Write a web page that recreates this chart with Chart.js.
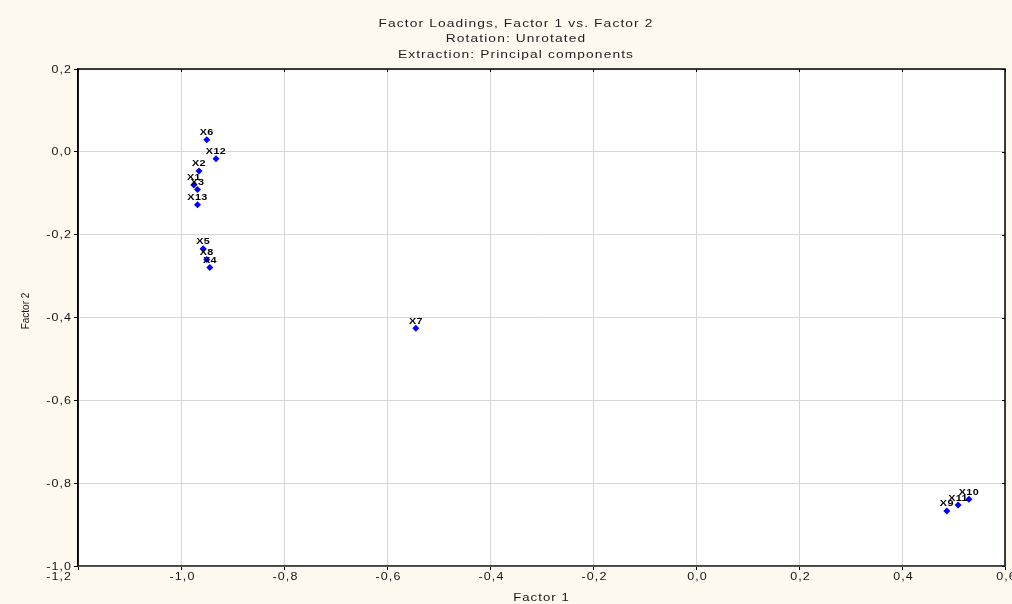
<!DOCTYPE html>
<html>
<head>
<meta charset="utf-8">
<script src="https://cdn.jsdelivr.net/npm/chart.js@4"></script>
<style>
  html, body { margin: 0; padding: 0; background: #fdf9ef; }
  #wrap { width: 1012px; height: 604px; }
</style>
</head>
<body>
<div id="wrap"><canvas id="c" width="1012" height="604"></canvas></div>
<script>
// Unrotated factor loadings (principal components)
const variables = ['X1', 'X2', 'X3', 'X4', 'X5', 'X6', 'X7', 'X8', 'X9', 'X10', 'X11', 'X12', 'X13'];
const factor1 = [-0.975, -0.965, -0.968, -0.944, -0.957, -0.950, -0.544, -0.950, 0.487, 0.530, 0.509, -0.932, -0.968];
const factor2 = [-0.080, -0.046, -0.091, -0.279, -0.234, 0.029, -0.426, -0.260, -0.867, -0.839, -0.853, -0.017, -0.128];

const xTicks = [-1.2, -1.0, -0.8, -0.6, -0.4, -0.2, 0, 0.2, 0.4, 0.6];
const yTicks = [-1.0, -0.8, -0.6, -0.4, -0.2, 0, 0.2];

const titleLines = ['Factor Loadings, Factor 1 vs. Factor 2', 'Rotation: Unrotated', 'Extraction: Principal components'];
const xTitle = 'Factor 1';
const yTitle = 'Factor 2';

const points = variables.map((v, i) => ({ x: factor1[i], y: factor2[i], label: v }));
const fmt = v => Number(v).toFixed(1).replace('.', ',');
const FONT = 'Arial, "Liberation Sans", sans-serif';
const INK = '#151515';

// Wide, loosely spaced lettering
function wideText(ctx, text, x, y, opt) {
  ctx.save();
  ctx.translate(x, y);
  ctx.scale(opt.sx || 1.25, 1);
  ctx.font = (opt.weight || 'normal') + ' ' + opt.size + 'px ' + FONT;
  ctx.letterSpacing = (opt.ls == null ? 0.85 : opt.ls) + 'px';
  ctx.fillStyle = opt.color || INK;
  ctx.textAlign = opt.align || 'center';
  ctx.textBaseline = opt.baseline || 'alphabetic';
  ctx.fillText(text, 0, 0);
  ctx.restore();
}

const frame = {
  id: 'frame',
  beforeDraw(chart) {
    const { ctx, chartArea: a } = chart;
    ctx.save();
    ctx.fillStyle = '#fdf9ef';
    ctx.fillRect(0, 0, chart.width, chart.height);
    ctx.fillStyle = '#ffffff';
    ctx.fillRect(a.left, a.top, a.right - a.left, a.bottom - a.top);
    ctx.restore();
  },
  afterDatasetsDraw(chart) {
    const { ctx } = chart;
    const meta = chart.getDatasetMeta(0);
    meta.data.forEach((el, i) => {
      wideText(ctx, points[i].label, el.x, el.y - 4.5, { size: 9, weight: 'bold', sx: 1.2, ls: 0.3, color: '#000' });
    });
  },
  afterDraw(chart) {
    const { ctx, chartArea: a, scales } = chart;
    const xs = scales.x, ys = scales.y;
    ctx.save();
    // frame
    ctx.strokeStyle = '#000';
    ctx.lineWidth = 1.5;
    ctx.beginPath();
    ctx.moveTo(a.left, a.bottom); ctx.lineTo(a.left, a.top); ctx.lineTo(a.right, a.top); ctx.lineTo(a.right, a.bottom);
    ctx.stroke();
    ctx.strokeStyle = '#444';
    ctx.beginPath();
    ctx.moveTo(a.left, a.bottom); ctx.lineTo(a.right, a.bottom);
    ctx.stroke();
    // inner ticks on the top and right edges
    ctx.lineWidth = 1;
    ctx.strokeStyle = '#000';
    ctx.beginPath();
    xTicks.forEach(v => { const px = Math.round(xs.getPixelForValue(v)) + 0.5; ctx.moveTo(px, a.top); ctx.lineTo(px, a.top + 3); });
    yTicks.forEach(v => { const py = Math.round(ys.getPixelForValue(v)) + 0.5; ctx.moveTo(a.right, py); ctx.lineTo(a.right - 3, py); });
    ctx.stroke();
    ctx.restore();

    // tick labels
    xTicks.forEach((v, i) => {
      const px = xs.getPixelForValue(v);
      if (i === 0) wideText(ctx, fmt(v), px - 6, 580, { size: 10, align: 'right' });
      else wideText(ctx, fmt(v), px + 1.5, 580, { size: 10 });
    });
    yTicks.forEach(v => {
      const py = ys.getPixelForValue(v);
      wideText(ctx, fmt(v), a.left - 6, py + 3.6, { size: 10, align: 'right' });
    });

    // titles
    const cx = 516;
    const base = [26.5, 42.3, 58.3];
    titleLines.forEach((t, i) => wideText(ctx, t, cx, base[i], { size: 11, ls: 0.9, color: '#1e1e1e' }));
    wideText(ctx, xTitle, (a.left + a.right) / 2, 600.5, { size: 10.5 });

    ctx.save();
    ctx.translate(29, 311);
    ctx.rotate(-Math.PI / 2);
    ctx.font = '10px ' + FONT;
    ctx.fillStyle = INK;
    ctx.textAlign = 'center';
    ctx.textBaseline = 'alphabetic';
    ctx.fillText(yTitle, 0, 0);
    ctx.restore();
  }
};

new Chart(document.getElementById('c'), {
  type: 'scatter',
  data: {
    datasets: [{
      data: points,
      pointStyle: 'rectRot',
      pointRadius: 3.5,
      pointHoverRadius: 3.5,
      backgroundColor: '#0000ff',
      borderColor: '#0000ff',
      borderWidth: 0
    }]
  },
  options: {
    responsive: false,
    animation: false,
    events: [],
    layout: { padding: { top: 69, right: 7, left: 0, bottom: 0 } },
    plugins: { legend: { display: false }, tooltip: { enabled: false }, title: { display: false } },
    scales: {
      x: {
        type: 'linear',
        min: -1.2, max: 0.6,
        afterBuildTicks(s) { s.ticks = xTicks.map(v => ({ value: v })); },
        afterFit(s) { s.height = 38; s.paddingLeft = 0; s.paddingRight = 0; },
        grid: { color: '#d6d6d6', lineWidth: 1, tickLength: 4, tickColor: '#000', tickWidth: 1 },
        border: { display: true, color: '#444', width: 1.5 },
        ticks: { font: { family: FONT, size: 10 }, color: 'rgba(0,0,0,0)', padding: 1, maxRotation: 0, autoSkip: false, callback: v => fmt(v) }
      },
      y: {
        type: 'linear',
        min: -1.0, max: 0.2,
        afterBuildTicks(s) { s.ticks = yTicks.map(v => ({ value: v })); },
        afterFit(s) { s.width = 78; s.paddingTop = 0; s.paddingBottom = 0; },
        grid: { color: '#d6d6d6', lineWidth: 1, tickLength: 4, tickColor: '#000', tickWidth: 1 },
        border: { display: true, color: '#000', width: 1.5 },
        ticks: { font: { family: FONT, size: 10 }, color: 'rgba(0,0,0,0)', padding: 3, autoSkip: false, callback: v => fmt(v) }
      }
    }
  },
  plugins: [frame]
});
</script>
</body>
</html>
